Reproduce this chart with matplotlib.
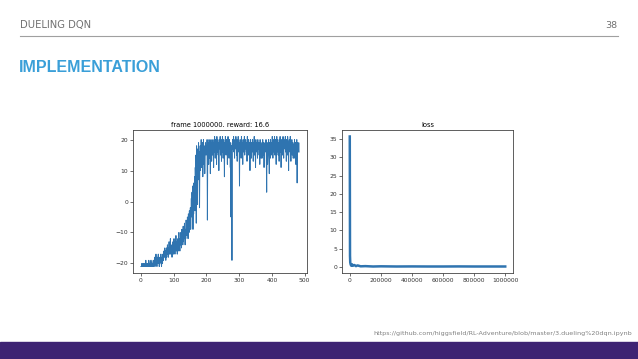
import matplotlib.pyplot as plt
import numpy as np

# episode rewards (Pong, 484 episodes)
rewards = [
    -21, -21, -21, -20, -21, -21, -21, -20, -21, -21, -21, -21, -20, -21, -21, -19, -21, -20, -21, -21,
    -20, -21, -20, -21, -19, -21, -20, -20, -21, -19, -20, -21, -20, -19, -21, -20, -21, -20, -19, -21,
    -19, -20, -18, -21, -19, -20, -17, -20, -19, -21, -18, -20, -19, -17, -20, -18, -21, -19, -20, -18,
    -19, -17, -20, -21, -18, -19, -20, -17, -18, -19, -16, -18, -17, -15, -18, -16, -19, -17, -15, -18,
    -16, -14, -17, -15, -18, -16, -13, -17, -15, -16, -12, -17, -14, -16, -15, -18, -14, -16, -13, -17,
    -15, -12, -16, -14, -17, -13, -15, -11, -16, -14, -13, -17, -15, -12, -16, -14, -10, -15, -13, -16,
    -12, -14, -10, -13, -15, -9, -12, -11, -14, -8, -13, -10, -12, -7, -11, -14, -9, -12, -6, -10,
    -8, -11, -5, -9, -12, -4, -7, -10, -3, -8, -6, -2, -9, -4, 1, -5, 3, -3, 5, -9,
    2, -4, 6, 0, 8, -3, 11, 4, 15, -7, 18, 9, 14, -1, 17, 12, 19, 7, 16, -2,
    13, 18, 10, 16, 20, 11, 17, 14, 19, 8, 15, 20, 12, 18, 16, 9, 14, 19, 17, 15,
    18, 16, 20, -6, 15, 19, 17, 12, 20, 18, 14, 19, 9, 17, 20, 16, 13, 19, 18, 15,
    20, 17, 11, 19, 16, 21, 18, 14, 20, 17, 19, 12, 21, 16, 18, 20, 15, 19, 10, 18,
    20, 17, 21, 15, 19, 18, 13, 20, 16, 21, 19, 14, 18, 20, 17, 8, 19, 16, 21, 18,
    15, 20, 17, 19, 12, 18, 21, 16, 19, 14, 20, 17, 18, 11, 19, -5, 16, 18, -19, 18,
    20, 17, 19, 21, 16, 18, 14, 20, 19, 17, 21, 18, 15, 20, 13, 19, 17, 21, 18, 16,
    19, 5, 18, 20, 16, 19, 14, 21, 17, 19, 18, 12, 20, 16, 19, 18, 21, 15, 19, 17,
    20, 18, 16, 19, 13, 21, 17, 19, 15, 20, 18, 16, 19, 10, 18, 20, 17, 14, 19, 18,
    16, 20, 18, 13, 19, 17, 21, 15, 19, 18, 11, 20, 17, 19, 16, 18, 14, 20, 17, 19,
    18, 15, 19, 12, 20, 17, 18, 14, 19, 16, 14, 18, 20, 17, 15, 19, 11, 18, 17, 19,
    19, 16, 20, 14, 3, 17, 19, 12, 15, 18, 20, 16, 9, 19, 17, 14, 20, 18, 15, 19,
    17, 21, 19, 14, 20, 18, 16, 19, 21, 15, 18, 20, 17, 12, 19, 21, 16, 18, 20, 15,
    19, 17, 13, 20, 18, 21, 16, 19, 11, 18, 20, 17, 15, 19, 21, 18, 14, 20, 17, 19,
    18, 21, 16, 19, 13, 20, 17, 15, 21, 19, 18, 10, 19, 20, 17, 16, 21, 18, 13, 19,
    17, 20, 15, 19, 18, 14, 17, 19, 14, 20, 18, 16, 19, 12, 17, 18, 20, 6, 19, 17,
    18, 16, 19, 16,
]

# loss
loss_frames = [0, 1500, 3000, 6000, 10000, 15000, 20000, 30000, 40000, 50000, 70000,
               100000, 150000, 200000, 300000, 400000, 500000, 600000, 700000, 800000,
               900000, 1000000]
loss_values = [35.7, 3.0, 1.2, 0.6, 0.3, 0.7, 0.3, 0.5, 0.2, 0.4, 0.15,
               0.2, 0.1, 0.15, 0.1, 0.12, 0.1, 0.1, 0.12, 0.1, 0.1, 0.1]

title_blue = '#3a9fd8'
purple = '#3e2373'
line_blue = '#2f74b0'

fig = plt.figure(figsize=(6.38, 3.59), dpi=100)
W, H = 638, 359

# slide header
fig.text(20 / W, 1 - 25 / H, 'DUELING DQN', fontsize=7.2, color='#707070', va='center')
fig.text(617 / W, 1 - 25 / H, '38', fontsize=6.8, color='#707070', va='center', ha='right')
fig.add_artist(plt.Line2D([20 / W, 618 / W], [1 - 36 / H, 1 - 36 / H], color='#a0a0a0', lw=0.8))
fig.text(19 / W, 1 - 68 / H, 'IMPLEMENTATION', fontsize=11.5, fontweight='bold', color=title_blue,
         va='center', family=['Liberation Sans', 'DejaVu Sans'])

# footer
fig.add_artist(plt.Rectangle((0, 0), 1, 17 / H, color=purple, transform=fig.transFigure))
fig.text(632 / W, 1 - 334 / H, 'https://github.com/higgsfield/RL-Adventure/blob/master/3.dueling%20dqn.ipynb',
         fontsize=4.6, color='#808080', ha='right', va='center')

tick_fs = 4.3

ax1 = fig.add_axes([133 / W, 1 - 273 / H, 174 / W, 143 / H])
ax1.plot(np.arange(len(rewards)), rewards, color=line_blue, lw=0.7)
ax1.set_title('frame 1000000. reward: %s' % np.mean(rewards[-10:]), fontsize=4.8, pad=2)
ax1.set_xticks([0, 100, 200, 300, 400, 500])
ax1.set_yticks([-20, -10, 0, 10, 20])

ax2 = fig.add_axes([342 / W, 1 - 273 / H, 171 / W, 143 / H])
ax2.plot(loss_frames, loss_values, color=line_blue, lw=1.8)
ax2.set_title('loss', fontsize=4.8, pad=2)
ax2.set_xticks([0, 200000, 400000, 600000, 800000, 1000000])
ax2.set_xticklabels(['0', '200000', '400000', '600000', '800000', '1000000'])
ax2.set_yticks([0, 5, 10, 15, 20, 25, 30, 35])

for ax in (ax1, ax2):
    ax.tick_params(labelsize=tick_fs, length=2, width=0.5, pad=1.5, colors='#333333')
    for s in ax.spines.values():
        s.set_linewidth(0.6)
        s.set_color('#444444')

fig.savefig('out.png', dpi=100)
